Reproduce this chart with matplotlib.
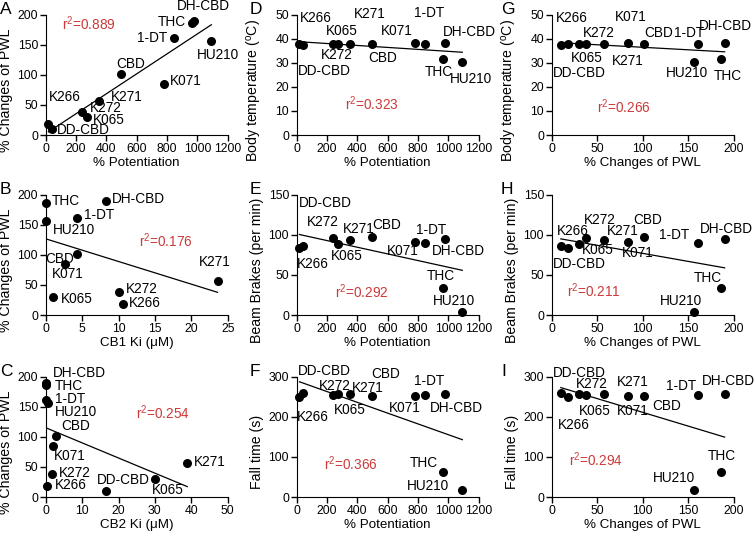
import numpy as np
import matplotlib.pyplot as plt

plt.rcParams['font.family'] = ['Liberation Sans', 'DejaVu Sans']
plt.rcParams['mathtext.fontset'] = 'custom'
plt.rcParams['mathtext.rm'] = 'Liberation Sans'
plt.rcParams['mathtext.it'] = 'Liberation Sans:italic'

compounds = ['K266', 'DD-CBD', 'K272', 'K065', 'K271', 'CBD', 'K071', '1-DT', 'THC', 'DH-CBD', 'HU210']
potentiation = [18, 44, 242, 270, 352, 498, 780, 846, 962, 978, 1092]
pwl = [18, 10, 38, 30, 57, 101, 84, 161, 186, 190, 156]
cb1_ki = [10.6, np.nan, 10.0, 1.05, 23.6, 4.26, 2.66, 4.26, 0.0, 8.3, 0.0]
cb2_ki = [0.45, 16.6, 1.66, 30.0, 38.9, 2.85, 2.1, 0.05, 0.05, 0.0, 0.55]
body_temp = [37.9, 37.5, 37.6, 37.9, 37.6, 37.6, 38.0, 37.8, 31.5, 38.1, 30.3]
beam_brakes = [84, 86, 96, 88, 93, 97, 91, 90, 34, 95, 4]
fall_time = [248, 260, 254, 256, 256, 252, 252, 253, 61, 257, 17]

r2_values = {'A': '0.889', 'B': '0.176', 'C': '0.254', 'D': '0.323', 'E': '0.292',
             'F': '0.366', 'G': '0.266', 'H': '0.211', 'I': '0.294'}

xlab_pot = '% Potentiation'
xlab_pwl = '% Changes of PWL'
ylab_pwl = '% Changes of PWL'
ylab_temp = 'Body temperature ($^{\\mathrm{o}}$C)'
ylab_beam = 'Beam Brakes (per min)'
ylab_fall = 'Fall time (s)'

# label offsets in pixels (dx, dy[, ha])
offsets = {
    'A': {'K266': (0, 27), 'DD-CBD': (5, -1), 'K272': (7, 4), 'K065': (6, -3), 'K271': (12, 4),
          'CBD': (-5, 10), 'K071': (6, 3), '1-DT': (-7, 0, 'right'), 'THC': (-6, 1, 'right'),
          'DH-CBD': (-17, 15), 'HU210': (-14, -14)},
    'B': {'THC': (6, 2), 'HU210': (7, -9), 'DH-CBD': (6, 2), '1-DT': (7, 3), 'CBD': (-3, -5, 'right'),
          'K071': (-13, -10), 'K065': (8, -2), 'K272': (7, 3), 'K266': (6, 1), 'K271': (-19, 19)},
    'C': {'DH-CBD': (7, 10), 'THC': (9, -1), '1-DT': (9, 1), 'HU210': (7, -9), 'CBD': (5, 10),
          'K071': (1, -10), 'K272': (7, 1), 'K266': (8, 1), 'DD-CBD': (-9, 11), 'K065': (-3, -11),
          'K271': (7, 1)},
    'D': {'K266': (0, 26), 'DD-CBD': (-5, -26), 'K272': (-13, -11), 'K065': (-12, 13), 'K271': (4, 30),
          'CBD': (-4, -14), 'K071': (-34, 12), '1-DT': (-11, 31), 'DH-CBD': (-2, 11), 'THC': (-18, -13),
          'HU210': (-12, -17)},
    'E': {'DD-CBD': (-4, 43), 'K266': (-3, -16), 'K272': (-27, 16), 'K065': (-7, -12), 'K271': (-7, 11),
          'CBD': (0, 12), 'K071': (-28, -9), '1-DT': (-9, 13), 'DH-CBD': (-13, -12), 'THC': (-16, 12),
          'HU210': (-29, 11)},
    'F': {'DD-CBD': (-5, 22), 'K266': (-3, -20), 'K272': (-15, 9), 'K065': (-4, -16), 'K271': (2, 6),
          'CBD': (-1, 22), 'K071': (-26, -12), '1-DT': (-11, 14), 'DH-CBD': (-15, -14), 'THC': (-33, 9),
          'HU210': (-55, 4)},
    'G': {'K266': (-12, 26), 'DD-CBD': (-8, -28), 'K272': (-3, 11), 'K065': (-8, -14), 'K271': (8, -17),
          'K071': (-13, 26), 'CBD': (1, 11), '1-DT': (-24, 11), 'DH-CBD': (-26, 17), 'HU210': (-28, -11),
          'THC': (-7, -17)},
    'H': {'K266': (-11, 17), 'DD-CBD': (-8, -18), 'K272': (-2, 18), 'K065': (3, -6), 'K271': (3, 9),
          'K071': (-6, -11), 'CBD': (-10, 17), '1-DT': (-39, 8), 'DH-CBD': (-25, 10), 'THC': (-27, 10),
          'HU210': (-34, 11)},
    'I': {'DD-CBD': (-8, 20), 'K266': (-10, -28), 'K272': (-10, 11), 'K065': (0, -17), 'K271': (13, 12),
          'K071': (-11, -15), 'CBD': (9, -10), '1-DT': (-32, 9), 'DH-CBD': (-23, 13), 'THC': (-13, 16),
          'HU210': (-41, 12)},
}

r2_pos = {'A': (0.088, 0.92), 'B': (0.514, 0.62), 'C': (0.496, 0.696),
          'D': (0.267, 0.262), 'E': (0.21, 0.194), 'F': (0.151, 0.278),
          'G': (0.248, 0.233), 'H': (0.083, 0.2), 'I': (0.097, 0.306)}

panels = [
    ('A', potentiation, pwl, xlab_pot, ylab_pwl, (0, 1200, 200), (0, 200, 50)),
    ('B', cb1_ki, pwl, 'CB1 Ki (μM)', ylab_pwl, (0, 25, 5), (0, 200, 50)),
    ('C', cb2_ki, pwl, 'CB2 Ki (μM)', ylab_pwl, (0, 50, 10), (0, 200, 50)),
    ('D', potentiation, body_temp, xlab_pot, ylab_temp, (0, 1200, 200), (0, 50, 10)),
    ('E', potentiation, beam_brakes, xlab_pot, ylab_beam, (0, 1200, 200), (0, 150, 50)),
    ('F', potentiation, fall_time, xlab_pot, ylab_fall, (0, 1200, 200), (0, 300, 100)),
    ('G', pwl, body_temp, xlab_pwl, ylab_temp, (0, 200, 50), (0, 50, 10)),
    ('H', pwl, beam_brakes, xlab_pwl, ylab_beam, (0, 200, 50), (0, 150, 50)),
    ('I', pwl, fall_time, xlab_pwl, ylab_fall, (0, 200, 50), (0, 300, 100)),
]

W, H = 754, 537
col_left = [45.7, 296.7, 551.7]     # px
row_top = [14.5, 194.5, 376.5]      # px
w_px, h_px = 182, 120.5
letter_x = [0, 250, 501]

fig = plt.figure(figsize=(W / 100, H / 100), dpi=100)

for i, (letter, xs, ys, xlab, ylab, xr, yr) in enumerate(panels):
    col, row = divmod(i, 3)
    ax = fig.add_axes([col_left[col] / W, 1 - (row_top[row] + h_px) / H, w_px / W, h_px / H])
    x = np.array(xs, dtype=float)
    y = np.array(ys, dtype=float)
    ok = ~np.isnan(x)

    ax.scatter(x[ok], y[ok], s=30, color='black', zorder=3, clip_on=False)
    slope, icpt = np.polyfit(x[ok], y[ok], 1)
    xl = np.array([x[ok].min(), x[ok].max()])
    ax.plot(xl, slope * xl + icpt, color='black', lw=0.9)

    for name, xv, yv in zip(compounds, x, y):
        if np.isnan(xv) or name not in offsets[letter]:
            continue
        off = offsets[letter][name]
        ha = off[2] if len(off) > 2 else 'left'
        ax.annotate(name, (xv, yv), xytext=(off[0], off[1]), textcoords='offset pixels',
                    ha=ha, va='center', fontsize=9.8, annotation_clip=False)

    rx, ry = r2_pos[letter]
    ax.text(rx, ry, 'r$^2$=' + r2_values[letter], transform=ax.transAxes,
            color='#cc3a3a', fontsize=9.8, va='center', ha='left')

    ax.set_xlim(xr[0], xr[1])
    ax.set_ylim(yr[0], yr[1])
    ax.set_xticks(np.arange(xr[0], xr[1] + xr[2], xr[2]))
    ax.set_yticks(np.arange(yr[0], yr[1] + yr[2], yr[2]))
    ax.spines['top'].set_visible(False)
    ax.spines['right'].set_visible(False)
    ax.tick_params(direction='out', length=4, width=1, labelsize=8.8, pad=1.5)
    ax.set_xlabel(xlab, fontsize=9.6, labelpad=2)
    ax.set_ylabel(ylab, fontsize=10.2)
    ax.yaxis.set_label_coords(-0.18, 0.37)

    fig.text(letter_x[col] / W, 1 - (row_top[row] - 5) / H, letter,
             fontsize=12.5, ha='left', va='center')

fig.savefig('out.png', dpi=100)
